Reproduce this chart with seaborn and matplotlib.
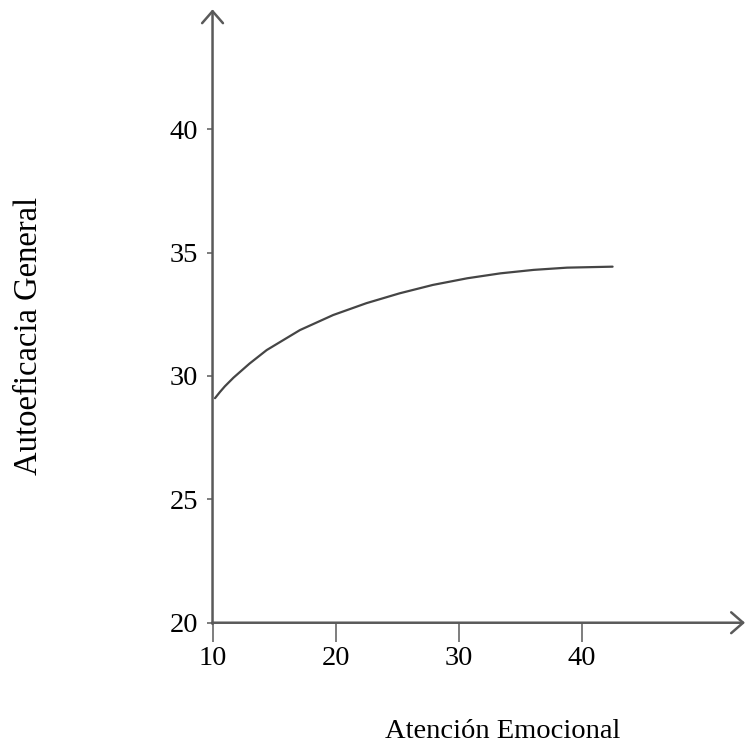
import matplotlib
matplotlib.use("Agg")
import matplotlib.pyplot as plt
import seaborn as sns
import pandas as pd

# Data
atencion = [10.2, 10.6, 11.0, 11.7, 13.0, 14.4, 17.1, 19.8, 22.5, 25.2, 27.9, 30.7, 33.4, 36.1, 38.8, 42.5]
autoeficacia = [29.1, 29.35, 29.58, 29.93, 30.5, 31.05, 31.86, 32.47, 32.95, 33.35, 33.69, 33.96, 34.16, 34.30, 34.39, 34.43]
x_ticks = [10, 20, 30, 40]
y_ticks = [20, 25, 30, 35, 40]
x_label = "Atención Emocional"
y_label = "Autoeficacia General"

df = pd.DataFrame({"x": atencion, "y": autoeficacia})

sns.set_theme(style="white")
plt.rcParams["font.family"] = ["Liberation Serif", "DejaVu Serif"]

AXIS_COLOR = "#5a5a5a"
fig = plt.figure(figsize=(7.46, 7.44), dpi=100)
ax = fig.add_axes([0.2849, 0.1630, 0.7138, 0.8245])

sns.lineplot(data=df, x="x", y="y", ax=ax, color="#454545", linewidth=1.6, sort=False)

ax.set_xlim(10, 53.26)
ax.set_ylim(20, 44.86)
ax.set_xticks(x_ticks)
ax.set_yticks(y_ticks)
ax.set_xlabel("")
ax.set_ylabel("")

for s in ax.spines.values():
    s.set_visible(False)

ax.tick_params(axis="x", direction="out", length=13.5, width=1.1, color=AXIS_COLOR,
               labelsize=20.5, labelcolor="black", pad=3, bottom=True)
ax.tick_params(axis="y", direction="out", length=4.3, width=1.1, color=AXIS_COLOR,
               labelsize=20.5, labelcolor="black", pad=6, left=True)

arrow_kw = dict(arrowstyle="->,head_length=8.6,head_width=7.5", mutation_scale=1,
                color=AXIS_COLOR, lw=1.8, shrinkA=0, shrinkB=0)
ax.annotate("", xy=(1.0, 0.0), xytext=(-0.001, 0.0), xycoords="axes fraction",
            arrowprops=arrow_kw, annotation_clip=False)
ax.annotate("", xy=(0.0, 1.0), xytext=(0.0, -0.002), xycoords="axes fraction",
            arrowprops=arrow_kw, annotation_clip=False)

fig.text(0.674, 0.0081, x_label, ha="center", va="baseline", fontsize=20.5, color="black")
fig.text(0.0389, 0.5490, y_label, ha="center", va="center", rotation=90, fontsize=23.5, color="black")

fig.savefig("out.png", dpi=100, facecolor="white")
